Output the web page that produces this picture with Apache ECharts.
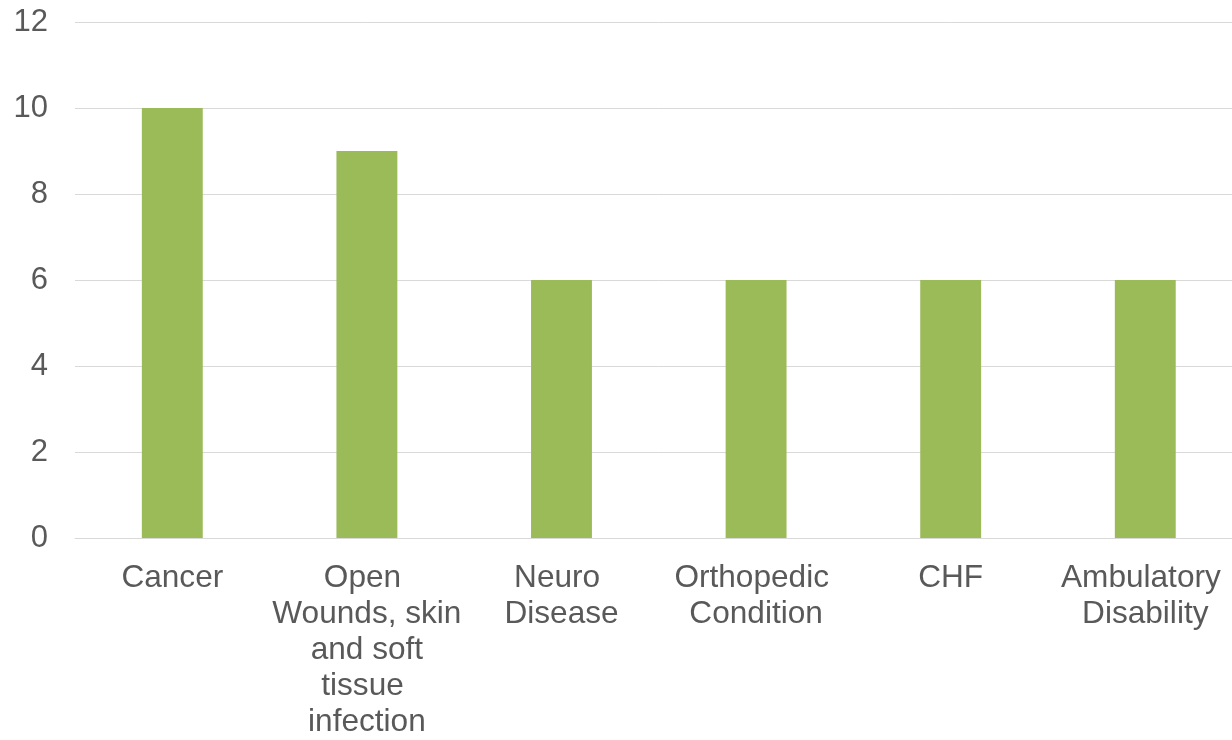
<!DOCTYPE html>
<html>
<head>
<meta charset="utf-8">
<script src="https://cdn.jsdelivr.net/npm/echarts@6/dist/echarts.min.js"></script>
<style>
  html, body { margin: 0; padding: 0; background: #ffffff; overflow: hidden; }
  /* the plot runs slightly past the right edge of the window */
  #chart { width: 1246px; height: 740px; }
</style>
</head>
<body>
<div id="chart"></div>
<script>
// Conditions and their counts
const categories = [
  'Cancer',
  'Open Wounds, skin and soft tissue infection',
  'Neuro Disease',
  'Orthopedic Condition',
  'CHF',
  'Ambulatory Disability'
];
const counts = [10, 9, 6, 6, 6, 6];
const yTicks = { min: 0, max: 12, interval: 2 };

const textColor = '#595959';
const gridColor = '#d9d9d9';
const fontFamily = '"Liberation Sans", Arial, sans-serif';

const chart = echarts.init(document.getElementById('chart'), null, { renderer: 'canvas' });
chart.setOption({
  animation: false,
  backgroundColor: '#ffffff',
  grid: { left: 75, right: 0, top: 22, bottom: 200, containLabel: false },
  xAxis: {
    type: 'category',
    data: categories,
    axisLine: { show: true, lineStyle: { color: gridColor, width: 1 } },
    axisTick: { show: false },
    axisLabel: {
      color: textColor,
      fontFamily: fontFamily,
      fontSize: 31.6,
      lineHeight: 36,
      margin: 22,
      interval: 0,
      width: 196,
      overflow: 'break',
      align: 'center'
    }
  },
  yAxis: {
    type: 'value',
    min: yTicks.min,
    max: yTicks.max,
    interval: yTicks.interval,
    axisLine: { show: false },
    axisTick: { show: false },
    splitLine: { lineStyle: { color: gridColor, width: 1 } },
    axisLabel: {
      color: textColor,
      fontFamily: fontFamily,
      fontSize: 31,
      margin: 27
    }
  },
  series: [{
    type: 'bar',
    data: counts,
    barWidth: '31.3%',
    itemStyle: { color: '#9bbb59' }
  }]
});
</script>
</body>
</html>
